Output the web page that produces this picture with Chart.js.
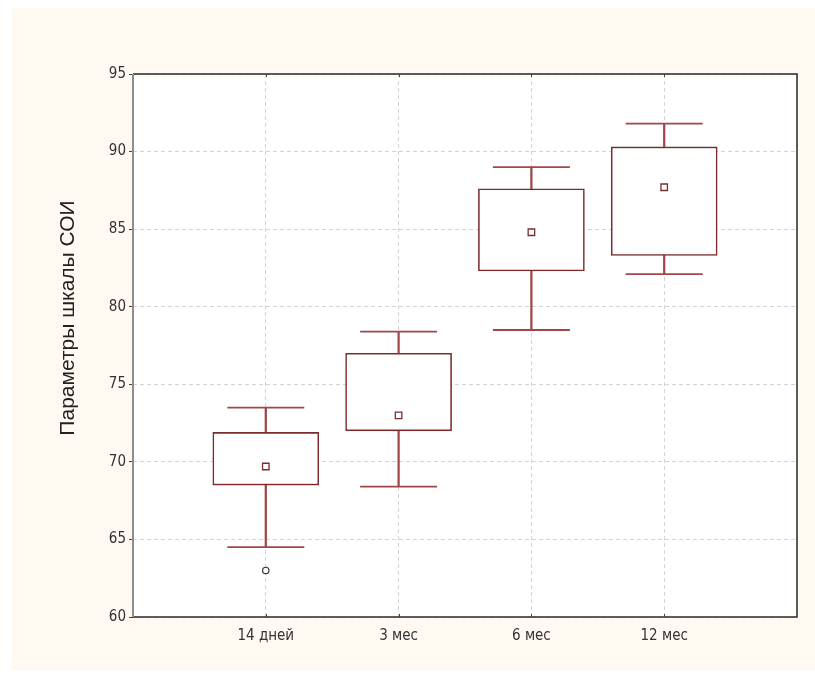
<!DOCTYPE html>
<html>
<head>
<meta charset="utf-8">
<script src="https://cdn.jsdelivr.net/npm/chart.js@4.4.1/dist/chart.umd.min.js"></script>
<style>
  html, body { margin: 0; padding: 0; background: #ffffff; }
  #bg { position: absolute; left: 12px; top: 8px; width: 803px; height: 662px; background: #FFF9F1; }
  #wrap { position: absolute; left: 0; top: 0; width: 815px; height: 674px; }
</style>
</head>
<body>
<div id="bg"></div>
<div id="wrap"><canvas id="c" width="815" height="674"></canvas></div>
<script>
// ---- data ----
const categories = ['', '14 дней', '3 мес', '6 мес', '12 мес', ''];
const whiskerLow  = [null, 64.5, 68.4, 78.5, 82.1, null];
const boxLow      = [null, 68.5, 72.0, 82.3, 83.3, null];
const meanValues  = [null, 69.7, 73.0, 84.8, 87.7, null];
const boxHigh     = [null, 71.9, 77.0, 87.6, 90.3, null];
const whiskerHigh = [null, 73.5, 78.4, 89.0, 91.8, null];
const outliers    = [null, 63.0, null, null, null, null];
const yTicks = [60, 65, 70, 75, 80, 85, 90, 95];
const yTitle = 'Параметры шкалы СОИ';

const boxColor = '#7a2c2c';
const stemColor = '#a04848';
const tickFont = { family: "'Liberation Sans Narrow', 'Arial Narrow', 'DejaVu Sans Condensed', 'Liberation Sans', Arial, sans-serif", size: 15 };

const framePlugin = {
  id: 'frame',
  beforeDraw(chart) {
    const { ctx, chartArea: a } = chart;
    ctx.save();
    ctx.fillStyle = '#ffffff';
    ctx.fillRect(a.left, a.top, a.right - a.left, a.bottom - a.top);
    ctx.restore();
  },
  beforeDatasetsDraw(chart) {
    const { ctx, chartArea: a } = chart;
    ctx.save();
    ctx.lineWidth = 1.5;
    ctx.strokeStyle = '#2a2a2a';
    ctx.beginPath();
    ctx.moveTo(a.left, a.top); ctx.lineTo(a.right, a.top);
    ctx.lineTo(a.right, a.bottom); ctx.lineTo(a.left, a.bottom);
    ctx.stroke();
    ctx.strokeStyle = '#8c8c8c';
    ctx.lineWidth = 2;
    ctx.beginPath();
    ctx.moveTo(a.left, a.top); ctx.lineTo(a.left, a.bottom);
    ctx.stroke();
    const xs = chart.scales.x;
    ctx.strokeStyle = '#444';
    ctx.lineWidth = 1;
    for (let i = 1; i < categories.length - 1; i++) {
      const x = Math.round(xs.getPixelForValue(i)) + 0.5;
      ctx.beginPath();
      ctx.moveTo(x, a.top); ctx.lineTo(x, a.top + 3);
      ctx.moveTo(x, a.bottom); ctx.lineTo(x, a.bottom - 3);
      ctx.stroke();
    }
    ctx.restore();
  },
  afterDraw(chart) {
    const { ctx } = chart;
    ctx.save();
    ctx.translate(68, 318);
    ctx.rotate(-Math.PI / 2);
    ctx.font = "21px 'Liberation Sans', Arial, sans-serif";
    ctx.fillStyle = '#222222';
    ctx.textAlign = 'center';
    ctx.textBaseline = 'middle';
    ctx.fillText(yTitle, 0, 0);
    ctx.restore();
  }
};

const stemData = whiskerLow.map((v, i) => v === null ? null : [v, whiskerHigh[i]]);
const boxData = boxLow.map((v, i) => v === null ? null : [v, boxHigh[i]]);

new Chart(document.getElementById('c'), {
  type: 'bar',
  data: {
    labels: categories,
    datasets: [
      { type: 'bar', data: stemData, grouped: false, barThickness: 1.6,
        backgroundColor: stemColor, borderWidth: 0, order: 6 },
      { type: 'bar', data: boxData, grouped: false, barThickness: 106,
        backgroundColor: '#ffffff', borderColor: boxColor, borderWidth: 1.6,
        borderSkipped: false, order: 5 },
      { type: 'line', data: whiskerHigh, showLine: false, pointStyle: 'line',
        pointRadius: 38.5, pointHoverRadius: 38.5, borderColor: stemColor, borderWidth: 1.8, order: 4 },
      { type: 'line', data: whiskerLow, showLine: false, pointStyle: 'line',
        pointRadius: 38.5, pointHoverRadius: 38.5, borderColor: stemColor, borderWidth: 1.8, order: 4 },
      { type: 'line', data: meanValues, showLine: false, pointStyle: 'rect',
        pointRadius: 4.6, pointBackgroundColor: '#ffffff', pointBorderColor: boxColor,
        pointBorderWidth: 1.3, order: 1 },
      { type: 'line', data: outliers, showLine: false, pointStyle: 'circle',
        pointRadius: 3.2, pointBackgroundColor: '#ffffff', pointBorderColor: '#333333',
        pointBorderWidth: 1.2, order: 1 }
    ]
  },
  options: {
    responsive: false,
    animation: false,
    events: [],
    layout: { autoPadding: false, padding: { top: 74, right: 18, left: 0, bottom: 0 } },
    plugins: { legend: { display: false }, tooltip: { enabled: false } },
    scales: {
      x: {
        type: 'category',
        offset: false,
        grid: { offset: false, color: '#d4d4d4', lineWidth: 1, drawTicks: false },
        border: { display: false, dash: [4, 3] },
        ticks: { font: tickFont, color: '#333333', padding: 10, maxRotation: 0, autoSkip: false },
        afterFit(scale) { scale.height = 57; scale.paddingLeft = 0; scale.paddingRight = 0; }
      },
      y: {
        min: 60, max: 95,
        afterBuildTicks(scale) { scale.ticks = yTicks.map(v => ({ value: v })); },
        grid: { color: '#d4d4d4', lineWidth: 1, drawTicks: true, tickLength: 4, tickColor: '#444444' },
        border: { display: false, dash: [4, 3] },
        ticks: { font: tickFont, color: '#333333', padding: 3 },
        title: { display: false },
        afterFit(scale) { scale.width = 133; scale.paddingTop = 0; scale.paddingBottom = 0; }
      }
    }
  },
  plugins: [framePlugin]
});
</script>
</body>
</html>
